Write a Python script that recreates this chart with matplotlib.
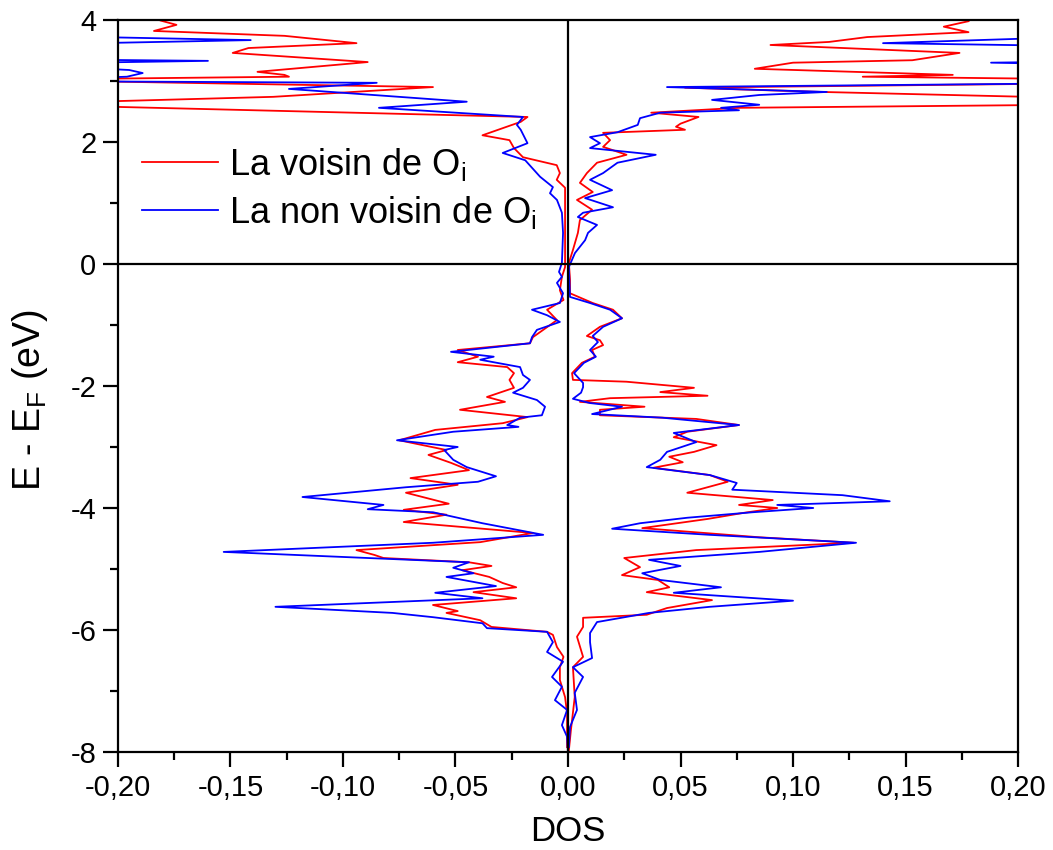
import matplotlib
matplotlib.use("Agg")
import matplotlib.pyplot as plt
from matplotlib.ticker import MultipleLocator, FuncFormatter

plt.rcParams['font.family'] = ['Liberation Sans', 'DejaVu Sans']
plt.rcParams['mathtext.default'] = 'regular'

# La voisin de Oi - spin down (plotted to the left)
e_red_dn = [3.99, 3.92, 3.82, 3.74, 3.62, 3.54, 3.46, 3.31, 3.15, 3.10, 3.07, 3.02, 2.90, 2.74, 2.62,
            2.41, 2.33, 2.11, 2.03, 1.90, 1.75, 1.62, 1.49, 1.38, 1.25, 1.05, 0.56, -0.05, -0.21, -0.43,
            -0.59, -0.75, -0.92, -1.20, -1.30, -1.41, -1.52, -1.61, -1.69, -1.79, -1.90, -2.03, -2.18,
            -2.26, -2.39, -2.51, -2.61, -2.72, -2.89, -3.05, -3.13, -3.26, -3.38, -3.51, -3.62, -3.75,
            -3.93, -4.03, -4.11, -4.23, -4.41, -4.56, -4.69, -4.77, -4.82, -4.89, -4.95, -5.02, -5.13,
            -5.23, -5.30, -5.38, -5.48, -5.59, -5.69, -5.72, -5.84, -5.95, -6.03, -6.08, -6.28, -6.44,
            -6.61, -6.82, -7.10, -7.36, -7.92]
dos_red_dn = [-0.181, -0.174, -0.184, -0.126, -0.094, -0.142, -0.149, -0.089, -0.138, -0.126, -0.124,
              -0.25, -0.060, -0.131, -0.25, -0.018, -0.021, -0.038, -0.026, -0.024, -0.020, -0.005,
              -0.0036, -0.005, -0.0013, -0.0013, -0.0013, -0.0013, -0.0027, -0.0036, -0.002, -0.0093,
              -0.0049, -0.0156, -0.0169, -0.049, -0.040, -0.049, -0.027, -0.024, -0.026, -0.024, -0.036,
              -0.028, -0.048, -0.018, -0.029, -0.059, -0.075, -0.054, -0.062, -0.052, -0.044, -0.070,
              -0.049, -0.072, -0.053, -0.073, -0.054, -0.073, -0.0156, -0.039, -0.094, -0.086, -0.082,
              -0.044, -0.034, -0.047, -0.035, -0.029, -0.023, -0.042, -0.023, -0.060, -0.049, -0.054,
              -0.039, -0.034, -0.0093, -0.0067, -0.0049, -0.002, -0.0036, -0.0036, -0.0013, -0.0004,
              -0.0004]

# La voisin de Oi - spin up (plotted to the right)
e_red_up = [3.98, 3.89, 3.80, 3.72, 3.64, 3.59, 3.46, 3.34, 3.30, 3.20, 3.10, 3.07, 3.02, 2.97, 2.89,
            2.82, 2.70, 2.62, 2.56, 2.48, 2.41, 2.30, 2.25, 2.20, 2.15, 2.03, 1.92, 1.79, 1.66, 1.49,
            1.33, 1.18, 1.05, 0.89, 0.72, 0.51, 0.23, 0.02, -0.26, -0.48, -0.64, -0.75, -0.89, -1.03,
            -1.18, -1.25, -1.33, -1.41, -1.52, -1.62, -1.79, -1.90, -1.93, -2.03, -2.10, -2.16, -2.20,
            -2.26, -2.34, -2.39, -2.48, -2.54, -2.64, -2.75, -2.84, -2.97, -3.08, -3.16, -3.25, -3.34,
            -3.46, -3.57, -3.75, -3.87, -3.95, -4.00, -4.08, -4.18, -4.33, -4.48, -4.57, -4.69, -4.82,
            -4.97, -5.10, -5.18, -5.30, -5.38, -5.51, -5.64, -5.75, -5.80, -5.95, -6.11, -6.44, -6.61,
            -7.10, -7.64, -7.97]
dos_red_up = [0.178, 0.167, 0.178, 0.133, 0.116, 0.090, 0.174, 0.153, 0.100, 0.083, 0.171, 0.131, 0.25,
              0.25, 0.052, 0.113, 0.25, 0.25, 0.076, 0.037, 0.058, 0.050, 0.048, 0.052, 0.0156, 0.0187,
              0.0156, 0.026, 0.0129, 0.0084, 0.0053, 0.011, 0.004, 0.0107, 0.0053, 0.0044, 0.0022,
              0.0004, 0.0009, 0.0009, 0.011, 0.020, 0.024, 0.0142, 0.0084, 0.0142, 0.0156, 0.0107,
              0.012, 0.0062, 0.0018, 0.0022, 0.026, 0.056, 0.041, 0.062, 0.0187, 0.0053, 0.034, 0.0142,
              0.0142, 0.057, 0.076, 0.053, 0.047, 0.066, 0.056, 0.045, 0.051, 0.038, 0.063, 0.071,
              0.053, 0.091, 0.076, 0.093, 0.078, 0.062, 0.033, 0.085, 0.127, 0.057, 0.025, 0.032, 0.024,
              0.040, 0.045, 0.035, 0.064, 0.044, 0.035, 0.0067, 0.0067, 0.004, 0.0067, 0.0022, 0.003,
              0.0013, 0.0004]

# La non voisin de Oi - spin down
e_blue_dn = [4.00, 3.75, 3.67, 3.59, 3.36, 3.33, 3.28, 3.18, 3.13, 3.07, 3.00, 2.97, 2.87, 2.66, 2.56,
             2.41, 2.28, 2.20, 1.98, 1.82, 1.70, 1.43, 1.26, 1.16, 1.05, 0.84, 0.51, 0.02, -0.13, -0.21,
             -0.31, -0.48, -0.64, -0.75, -0.84, -0.95, -1.08, -1.20, -1.30, -1.44, -1.52, -1.57, -1.69,
             -1.82, -1.90, -2.03, -2.11, -2.23, -2.34, -2.48, -2.52, -2.64, -2.67, -2.75, -2.89, -3.00,
             -3.05, -3.21, -3.33, -3.48, -3.57, -3.66, -3.82, -3.95, -4.02, -4.07, -4.25, -4.44, -4.57,
             -4.72, -4.82, -4.89, -4.98, -5.07, -5.13, -5.28, -5.39, -5.48, -5.62, -5.72, -5.79, -5.89,
             -5.97, -6.03, -6.20, -6.36, -6.52, -6.77, -6.93, -7.15, -7.31, -7.56, -7.75, -8.02]
dos_blue_dn = [-0.25, -0.25, -0.141, -0.25, -0.25, -0.160, -0.25, -0.195, -0.189, -0.196, -0.25, -0.085,
               -0.124, -0.045, -0.084, -0.020, -0.0227, -0.021, -0.018, -0.029, -0.019, -0.0124, -0.0067,
               -0.008, -0.0049, -0.0027, -0.0022, -0.0027, -0.004, -0.0027, -0.0049, -0.0022, -0.0036,
               -0.016, -0.0093, -0.0036, -0.0138, -0.016, -0.0169, -0.052, -0.033, -0.039, -0.0213,
               -0.020, -0.0169, -0.020, -0.0244, -0.0138, -0.0102, -0.0116, -0.0213, -0.027, -0.022,
               -0.051, -0.076, -0.049, -0.055, -0.051, -0.045, -0.032, -0.040, -0.072, -0.118, -0.082,
               -0.089, -0.060, -0.038, -0.011, -0.060, -0.153, -0.089, -0.044, -0.051, -0.042, -0.054,
               -0.032, -0.059, -0.038, -0.130, -0.078, -0.060, -0.038, -0.036, -0.0093, -0.0067, -0.0093,
               -0.0022, -0.0071, -0.0027, -0.0058, -0.0004, -0.0027, -0.0004, 0.0]

# La non voisin de Oi - spin up
e_blue_up = [4.00, 3.75, 3.62, 3.56, 3.33, 3.30, 3.26, 2.97, 2.90, 2.82, 2.77, 2.69, 2.61, 2.56, 2.52,
             2.48, 2.39, 2.28, 2.16, 2.08, 1.98, 1.90, 1.79, 1.66, 1.49, 1.38, 1.21, 1.08, 0.93, 0.84,
             0.77, 0.64, 0.51, 0.39, 0.18, -0.05, -0.54, -0.64, -0.75, -0.89, -1.03, -1.18, -1.28,
             -1.41, -1.52, -1.62, -1.79, -1.95, -2.02, -2.11, -2.21, -2.28, -2.34, -2.46, -2.52, -2.64,
             -2.77, -2.92, -3.08, -3.21, -3.33, -3.46, -3.59, -3.70, -3.79, -3.89, -3.95, -4.00, -4.07,
             -4.16, -4.25, -4.34, -4.44, -4.57, -4.72, -4.85, -4.95, -5.07, -5.18, -5.30, -5.39, -5.52,
             -5.62, -5.72, -5.87, -6.05, -6.20, -6.46, -6.61, -6.77, -7.03, -7.31, -7.59, -7.92]
dos_blue_up = [0.25, 0.25, 0.140, 0.25, 0.25, 0.188, 0.25, 0.25, 0.044, 0.115, 0.085, 0.064, 0.085, 0.068,
               0.076, 0.041, 0.032, 0.031, 0.022, 0.0098, 0.0142, 0.0098, 0.039, 0.022, 0.0156, 0.0098,
               0.0196, 0.0076, 0.020, 0.0067, 0.0044, 0.0129, 0.0089, 0.0076, 0.0031, 0.0004, 0.0009,
               0.0098, 0.0187, 0.024, 0.0156, 0.011, 0.0133, 0.0098, 0.0124, 0.0071, 0.0027, 0.0067,
               0.0067, 0.0058, 0.0022, 0.0098, 0.024, 0.0107, 0.042, 0.076, 0.047, 0.057, 0.044, 0.041,
               0.035, 0.063, 0.075, 0.073, 0.122, 0.143, 0.093, 0.109, 0.082, 0.053, 0.032, 0.0196,
               0.063, 0.128, 0.085, 0.036, 0.050, 0.033, 0.041, 0.068, 0.047, 0.100, 0.063, 0.036,
               0.0129, 0.0098, 0.0098, 0.0107, 0.0022, 0.0067, 0.003, 0.004, 0.0009, 0.0004]

labels = ["La voisin de O$_i$", "La non voisin de O$_i$"]
x_ticks = [-0.20, -0.15, -0.10, -0.05, 0.0, 0.05, 0.10, 0.15, 0.20]
y_ticks = [-8, -6, -4, -2, 0, 2, 4]

fig = plt.figure(figsize=(10.53, 8.5), dpi=100)
ax = fig.add_axes([0.112, 0.1153, 0.8548, 0.8612])

ax.plot(dos_red_dn, e_red_dn, color='#ff0000', lw=1.3, label=labels[0])
ax.plot(dos_red_up, e_red_up, color='#ff0000', lw=1.3)
ax.plot(dos_blue_dn, e_blue_dn, color='#0000ff', lw=1.3, label=labels[1])
ax.plot(dos_blue_up, e_blue_up, color='#0000ff', lw=1.3)

ax.axhline(0, color='black', lw=1.6, zorder=3)
ax.axvline(0, color='black', lw=1.6, zorder=3)

ax.set_xlim(-0.20, 0.20)
ax.set_ylim(-8, 4)
ax.set_xticks(x_ticks)
ax.set_yticks(y_ticks)
ax.xaxis.set_minor_locator(MultipleLocator(0.025))
ax.yaxis.set_minor_locator(MultipleLocator(1))
ax.xaxis.set_major_formatter(FuncFormatter(
    lambda v, p: "0,00" if abs(v) < 1e-9 else f"{v:.2f}".replace('.', ',')))
ax.yaxis.set_major_formatter(FuncFormatter(lambda v, p: f"{int(round(v))}"))

for s in ax.spines.values():
    s.set_linewidth(1.6)
ax.tick_params(which='major', direction='out', length=10.5, width=1.6, labelsize=21, pad=5,
               top=False, right=False)
ax.tick_params(which='minor', direction='out', length=6, width=1.6, top=False, right=False)

ax.set_xlabel("DOS", fontsize=25, labelpad=10)
ax.set_ylabel("E - E$_F$ (eV)", fontsize=27, va='center')
ax.yaxis.set_label_coords(-0.098, 0.481)

ax.legend(loc='upper left', bbox_to_anchor=(0.027, 0.828), frameon=False, fontsize=26,
          handlelength=2.1, handletextpad=0.3, labelspacing=0.3, borderaxespad=0, borderpad=0)

fig.savefig("out.png", dpi=100)
